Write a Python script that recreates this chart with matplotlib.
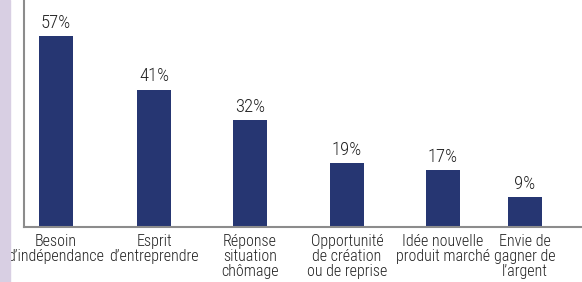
import matplotlib.pyplot as plt
from matplotlib.patches import Rectangle

categories = ["Besoin\nd\u2019indépendance", "Esprit\nd\u2019entreprendre",
              "Réponse\nsituation\nchômage", "Opportunité\nde création\nou de reprise",
              "Idée nouvelle\nproduit marché", "Envie de\ngagner de\nl\u2019argent"]
values = [57, 41, 32, 19, 17, 9]
# bar centres in pixels from the left axis line
xpos = [32, 130, 226, 323, 419, 501]

bar_color = "#263672"
axis_color = "#8c8c8c"
text_color = "#222222"
plt.rcParams['font.family'] = ['Roboto Condensed', 'DejaVu Sans']
plt.rcParams['font.weight'] = 'light'

fig = plt.figure(figsize=(5.82, 2.82), dpi=100)
# lavender strip along the left edge
fig.patches.append(Rectangle((0, 0), 10 / 582, 1, transform=fig.transFigure,
                             color="#d8cfe3", zorder=0))

ax = fig.add_axes([24 / 582, 55 / 282, 558 / 582, 227 / 282])
ax.bar(xpos, values, width=34, color=bar_color, zorder=2)
for x, v in zip(xpos, values):
    ax.annotate(f"{v}%", (x, v), xytext=(0, 3), textcoords="offset points",
                ha="center", va="bottom", fontsize=13.5, color=text_color)

ax.set_xlim(0, 558)
ax.set_ylim(0, 67.7)
ax.set_yticks([])
ax.set_xticks(xpos)
ax.set_xticklabels(categories, fontsize=11.5, color=text_color, linespacing=1.02)
ax.tick_params(axis="x", length=0, pad=5)
for s in ["top", "right"]:
    ax.spines[s].set_visible(False)
for s in ["left", "bottom"]:
    ax.spines[s].set_color(axis_color)
    ax.spines[s].set_linewidth(1.5)

fig.savefig("out.png", dpi=100)
